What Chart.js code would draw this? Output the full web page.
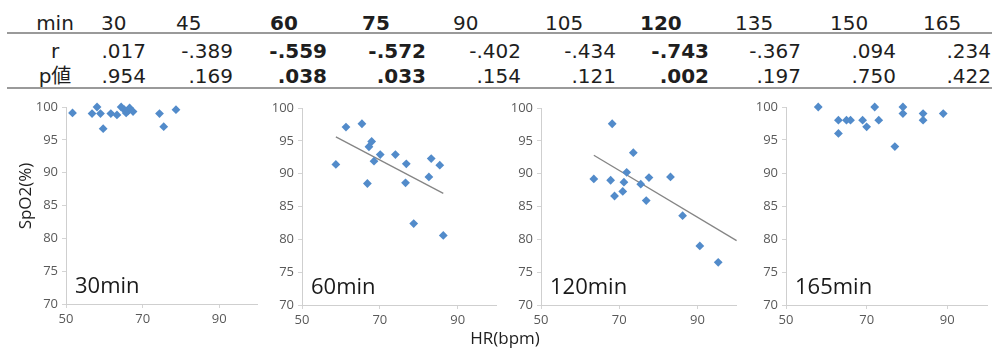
<!DOCTYPE html>
<html><head><meta charset="utf-8">
<script src="https://cdn.jsdelivr.net/npm/chart.js@4.4.1/dist/chart.umd.min.js"></script>
<style>
html,body{margin:0;padding:0;background:#fff;}
body{width:992px;height:352px;position:relative;overflow:hidden;}
.t{position:absolute;font-family:"DejaVu Sans","Noto Sans CJK JP",sans-serif;font-size:20px;line-height:20px;color:#1e1e1e;white-space:nowrap;}
.b{font-weight:bold;}
.rule{position:absolute;left:7px;width:985px;height:2px;background:#9a9a9a;}
.wrap{position:absolute;}
.ttl{position:absolute;font-family:"Open Sans",sans-serif;font-size:17px;color:#1e1e1e;white-space:nowrap;line-height:20px;}
</style></head><body>
<div id="table"></div>
<div class="rule" style="top:32px"></div>
<div class="rule" style="top:87px"></div>
<div id="charts"></div>
<div class="ttl" id="ytitle">SpO2(%)</div>
<div class="ttl" id="xtitle">HR(bpm)</div>
<script>
// ---- table data ----
const minutes = ['30','45','60','75','90','105','120','135','150','165'];
const rValues = ['.017','-.389','-.559','-.572','-.402','-.434','-.743','-.367','.094','.234'];
const pValues = ['.954','.169','.038','.033','.154','.121','.002','.197','.750','.422'];
const significant = [false,false,true,true,false,false,true,false,false,false];
const rowLabels = ['min','r','p値'];

// ---- scatter data ----
const panelLabels = ['30min','60min','120min','165min'];
const hr30   = [51.7,56.8,58.1,59.0,59.7,61.7,63.3,64.4,65.2,65.7,66.2,66.6,67.5,74.4,75.5,78.7];
const spo230 = [99.1,99.0,100,99.0,96.7,99.0,98.8,100,99.6,99.1,99.4,99.85,99.3,99.0,97.0,99.6];
const hr60   = [58.7,61.3,65.4,66.8,67.2,67.9,68.5,70.1,74.0,76.8,76.6,78.7,82.6,83.2,85.4,86.3];
const spo260 = [91.4,97.1,97.6,88.5,94.1,94.9,91.9,92.9,92.9,91.5,88.6,82.4,89.5,92.3,91.3,80.6];
const hr120   = [63.5,68.2,67.8,68.8,70.9,71.2,71.9,73.6,75.5,76.9,77.6,83.1,86.2,90.6,95.3];
const spo2120 = [89.2,97.6,89.0,86.6,87.3,88.7,90.2,93.2,88.4,85.9,89.4,89.5,83.6,79.0,76.5];
const hr165   = [58,63,63,65,66,69,70,72,73,77,79,79,84,84,89];
const spo2165 = [100,98,96,98,98,98,97,100,98,94,100,99,99,98,99];
// trendlines
const trendHr60 = [58.7,86.3];   const trendSpo260 = [95.6,87.0];
const trendHr120 = [63.5,100];   const trendSpo2120 = [92.8,79.8];
const xTicks = [50,70,90];
const yTicks = [70,75,80,85,90,95,100];

const panels = [
  {label:panelLabels[0], hr:hr30, spo2:spo230, thr:null, tsp:null},
  {label:panelLabels[1], hr:hr60, spo2:spo260, thr:trendHr60, tsp:trendSpo260},
  {label:panelLabels[2], hr:hr120, spo2:spo2120, thr:trendHr120, tsp:trendSpo2120},
  {label:panelLabels[3], hr:hr165, spo2:spo2165, thr:null, tsp:null}
];

// ---- layout (pixels) ----
const firstColCenter = 55;
const colLeft  = [101,176,270,362,453,545,640,735,830,923];
const colRight = [146,233,327,426,521,616,709,801,896,991];
const rowTop = [13,41,66];
const boxes = [
  {L:66,R:258,T:107,B:304},
  {L:302,R:497,T:108,B:305},
  {L:541,R:737,T:108,B:305},
  {L:786,R:988,T:107,B:305}
];
const YW = 50, PADT = 12, PADR = 4, XH = 34;

// build table
const tbl = document.getElementById('table');
function addText(txt, style, bold){
  const d = document.createElement('div');
  d.className = 't' + (bold ? ' b' : '');
  d.textContent = txt;
  Object.assign(d.style, style);
  tbl.appendChild(d);
  return d;
}
rowLabels.forEach((lab,ri)=>{
  addText(lab,{left:(firstColCenter-40)+'px',width:'80px',textAlign:'center',top:rowTop[ri]+'px'});
});
minutes.forEach((m,i)=>{
  const bold = significant[i];
  addText(m,{left:colLeft[i]+'px',top:rowTop[0]+'px'},bold);
  addText(rValues[i],{left:(colRight[i]-120)+'px',width:'120px',textAlign:'right',top:rowTop[1]+'px'},bold);
  addText(pValues[i],{left:(colRight[i]-120)+'px',width:'120px',textAlign:'right',top:rowTop[2]+'px'},bold);
});

// titles
const yt = document.getElementById('ytitle');
yt.style.left = (25-40)+'px'; yt.style.top = (196-10)+'px'; yt.style.width='80px'; yt.style.textAlign='center';
yt.style.transform = 'rotate(-90deg)';
const xt = document.getElementById('xtitle');
xt.style.left = (505-50)+'px'; xt.style.top = (328)+'px'; xt.style.width='100px'; xt.style.textAlign='center';

const panelLabelPlugin = {
  id:'panelLabel',
  afterDatasetsDraw(chart, args, opts){
    const {ctx, chartArea} = chart;
    ctx.save();
    ctx.font = '22px "Open Sans", sans-serif';
    ctx.fillStyle = '#1a1a1a';
    ctx.textBaseline = 'alphabetic';
    ctx.textAlign = 'left';
    ctx.fillText(opts.text, chartArea.left + 9, chartArea.bottom - 11);
    ctx.restore();
  }
};

const chartsDiv = document.getElementById('charts');
panels.forEach((p,i)=>{
  const b = boxes[i];
  const w = (b.R-b.L) + YW + PADR;
  const h = (b.B-b.T) + PADT + XH;
  const wrap = document.createElement('div');
  wrap.className='wrap';
  wrap.style.left = (b.L-YW)+'px'; wrap.style.top = (b.T-PADT)+'px';
  wrap.style.width = w+'px'; wrap.style.height = h+'px';
  const cv = document.createElement('canvas');
  cv.width = w; cv.height = h;
  cv.style.width = w+'px'; cv.style.height = h+'px';
  wrap.appendChild(cv);
  chartsDiv.appendChild(wrap);

  const datasets = [{
    type:'scatter',
    data: p.hr.map((x,k)=>({x:x, y:p.spo2[k]})),
    pointStyle:'rectRot',
    pointRadius:4.4,
    pointBackgroundColor:'#528bca',
    pointBorderWidth:0,
    backgroundColor:'#528bca',
    borderWidth:0,
    clip:false,
    order:1
  }];
  if (p.thr){
    datasets.push({
      type:'line',
      data: p.thr.map((x,k)=>({x:x, y:p.tsp[k]})),
      borderColor:'#858585',
      borderWidth:1.3,
      pointRadius:0,
      fill:false,
      clip:false,
      order:2
    });
  }
  new Chart(cv.getContext('2d'), {
    type:'scatter',
    data:{datasets},
    plugins:[panelLabelPlugin],
    options:{
      responsive:false,
      animation:false,
      events:[],
      layout:{padding:{left:0,right:PADR,top:PADT,bottom:0}},
      plugins:{legend:{display:false}, tooltip:{enabled:false}, panelLabel:{text:p.label}},
      scales:{
        x:{
          type:'linear', min:50, max:100,
          afterBuildTicks:s=>{ s.ticks = xTicks.map(v=>({value:v})); },
          afterFit:s=>{ s.height = XH; },
          grid:{drawOnChartArea:false, drawTicks:true, tickLength:4, color:'#d4d4d4'},
          border:{display:true, color:'#cfcfcf', width:1},
          ticks:{color:'#595959', font:{family:'"Open Sans", sans-serif', size:13}, padding:3, maxRotation:0}
        },
        y:{
          type:'linear', min:70, max:100,
          afterBuildTicks:s=>{ s.ticks = yTicks.map(v=>({value:v})); },
          afterFit:s=>{ s.width = YW; },
          grid:{drawOnChartArea:false, drawTicks:true, tickLength:4, color:'#d4d4d4'},
          border:{display:true, color:'#cfcfcf', width:1},
          ticks:{color:'#595959', font:{family:'"Open Sans", sans-serif', size:13}, padding:4}
        }
      }
    }
  });
});
</script>
</body></html>
